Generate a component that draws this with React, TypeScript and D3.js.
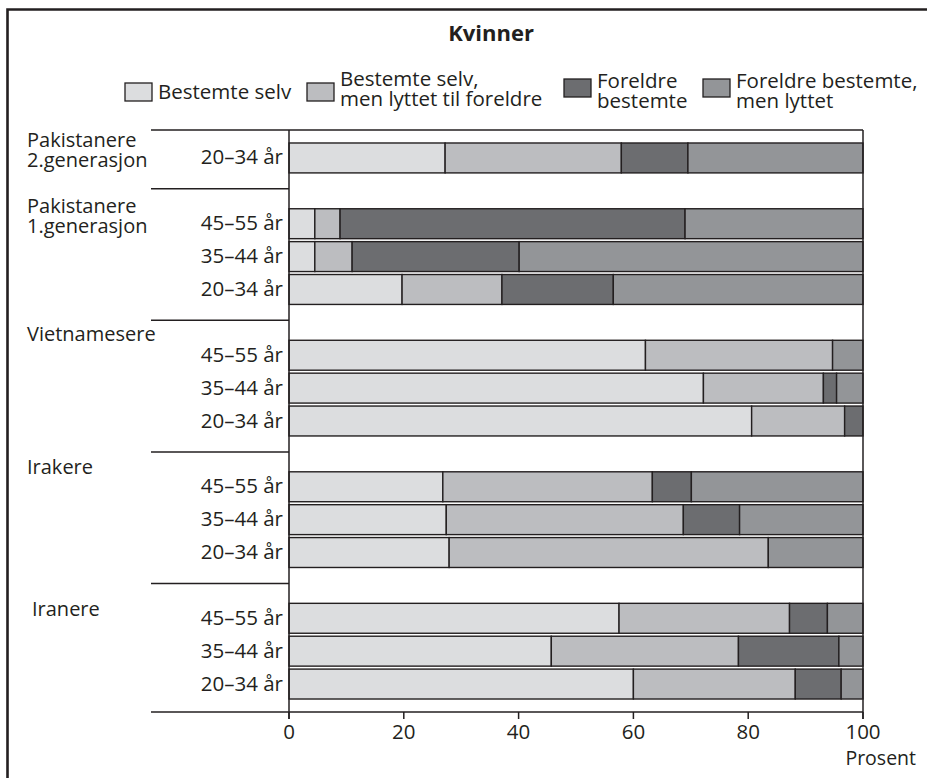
import React from 'react';
import * as d3 from 'd3';

// series (stack order, left to right)
const categories = [
  'Bestemte selv',
  'Bestemte selv, men lyttet til foreldre',
  'Foreldre bestemte',
  'Foreldre bestemte, men lyttet',
];
const legendLines = [
  ['Bestemte selv'],
  ['Bestemte selv,', 'men lyttet til foreldre'],
  ['Foreldre', 'bestemte'],
  ['Foreldre bestemte,', 'men lyttet'],
];

const groupNames = [
  ['Pakistanere', '2.generasjon'],
  ['Pakistanere', '1.generasjon'],
  ['Vietnamesere'],
  ['Irakere'],
  ['Iranere'],
];
const groupAges = [
  ['20–34 år'],
  ['45–55 år', '35–44 år', '20–34 år'],
  ['45–55 år', '35–44 år', '20–34 år'],
  ['45–55 år', '35–44 år', '20–34 år'],
  ['45–55 år', '35–44 år', '20–34 år'],
];

// percent, one value per bar, top to bottom
const bestemteSelv = [27.2, 4.5, 4.5, 19.7, 62.1, 72.2, 80.6, 26.8, 27.4, 27.9, 57.5, 45.7, 60.0];
const lyttetTilForeldre = [30.7, 4.4, 6.5, 17.4, 32.6, 20.9, 16.2, 36.5, 41.3, 55.6, 29.7, 32.6, 28.2];
const foreldreBestemte = [11.6, 60.1, 29.1, 19.4, 0, 2.3, 3.2, 6.8, 9.8, 0, 6.6, 17.5, 8.0];
const foreldreLyttet = [30.5, 31.0, 59.9, 43.5, 5.3, 4.6, 0, 29.9, 21.5, 16.5, 6.2, 4.2, 3.8];

const xTicks = [0, 20, 40, 60, 80, 100];

const colors = ['#dcdddf', '#bcbdc0', '#6c6d70', '#939598'];
const FONT = "'Open Sans', 'Noto Sans', sans-serif";
const INK = '#231f20';

const W = 927;
const H = 778;

export default function App() {
  // slots: bars plus one blank slot before every group except the first
  const slots: { key: string; gi: number; age?: string }[] = [];
  groupAges.forEach((ages, gi) => {
    if (gi > 0) slots.push({ key: `gap${gi}`, gi });
    ages.forEach((age, ai) => slots.push({ key: `${gi}-${ai}`, gi, age }));
  });
  const bars = slots.filter(s => s.age !== undefined);

  const seriesKeys = ['a', 'b', 'c', 'd'];
  const table = bars.map((b, i) => ({
    key: b.key,
    a: bestemteSelv[i],
    b: lyttetTilForeldre[i],
    c: foreldreBestemte[i],
    d: foreldreLyttet[i],
  }));
  const stacked = d3.stack<any>().keys(seriesKeys)(table);

  const x = d3.scaleLinear().domain([0, 100]).range([289, 863]);
  const y = d3
    .scaleBand<string>()
    .domain(slots.map(s => s.key))
    .range([130, 712])
    .paddingInner(0.09)
    .paddingOuter(0.395);
  const bw = y.bandwidth();
  const top = 130;
  const bottom = 712;
  const sepLeft = 151;

  const sepYs = [top, ...slots.filter(s => s.age === undefined).map(s => (y(s.key) as number) + bw / 2 - 2), bottom];

  // label nudges per group
  const groupLabelOffset = [
    { dx: 0, dy: -11 },
    { dx: 0, dy: -11 },
    { dx: 0, dy: -14 },
    { dx: 0, dy: -13 },
    { dx: 5, dy: -2 },
  ];

  const legendPos = [
    { x: 125, sy: 83, ty: [99] },
    { x: 307, sy: 83, ty: [86, 106] },
    { x: 564, sy: 79, ty: [88, 108] },
    { x: 703, sy: 79, ty: [88, 108] },
  ];

  return (
    <svg width={W} height={H} style={{ position: 'absolute', left: 0, top: 0, background: '#fff' }} fontFamily={FONT}>
      {/* frame: only top and left edges fall inside the picture */}
      <path d={`M7.5,${H} V9.5 H${W}`} fill="none" stroke={INK} strokeWidth={2.6} />

      <text x={491} y={41} textAnchor="middle" fontWeight="bold" fontSize={22} fill={INK}>
        Kvinner
      </text>

      {/* legend */}
      {categories.map((c, i) => (
        <g key={c}>
          <rect x={legendPos[i].x} y={legendPos[i].sy} width={27} height={18} fill={colors[i]} stroke={INK} strokeWidth={1.3} />
          {legendLines[i].map((line, li) => (
            <text key={li} x={legendPos[i].x + 33} y={legendPos[i].ty[li]} fontSize={20.5} fill={INK}>
              {line}
            </text>
          ))}
        </g>
      ))}

      {/* bars */}
      {stacked.map((s, si) => (
        <g key={s.key} fill={colors[si]}>
          {s.map((d, i) =>
            d[1] - d[0] > 0 ? (
              <rect
                key={i}
                x={x(d[0])}
                y={y(d.data.key)}
                width={x(d[1]) - x(d[0])}
                height={bw}
                stroke={INK}
                strokeWidth={1.4}
              />
            ) : null
          )}
        </g>
      ))}

      {/* group separators */}
      {sepYs.map((sy, i) => (
        <line key={i} x1={sepLeft} x2={x(0)} y1={sy} y2={sy} stroke={INK} strokeWidth={1.5} />
      ))}
      <line x1={x(0)} x2={x(100)} y1={top} y2={top} stroke={INK} strokeWidth={1.5} />
      <line x1={x(0)} x2={x(100)} y1={bottom} y2={bottom} stroke={INK} strokeWidth={1.5} />
      <line x1={x(0)} x2={x(0)} y1={top} y2={bottom + 7} stroke={INK} strokeWidth={1.5} />
      <line x1={x(100)} x2={x(100)} y1={top} y2={bottom + 7} stroke={INK} strokeWidth={1.5} />

      {/* x axis */}
      {xTicks.map(t => (
        <g key={t}>
          <line x1={x(t)} x2={x(t)} y1={bottom} y2={bottom + 7} stroke={INK} strokeWidth={1.5} />
          <text x={x(t)} y={739} textAnchor="middle" fontSize={20.5} fill={INK}>
            {t}
          </text>
        </g>
      ))}
      <text x={916} y={765} textAnchor="end" fontSize={19.5} fill={INK}>
        Prosent
      </text>

      {/* row labels */}
      {bars.map(b => (
        <text key={b.key} x={283} y={(y(b.key) as number) + bw / 2 + 6.5} textAnchor="end" fontSize={20.5} fill={INK}>
          {b.age}
        </text>
      ))}

      {/* group labels */}
      {groupNames.map((lines, gi) => {
        const first = bars.find(b => b.gi === gi)!;
        const by = (y(first.key) as number) + bw / 2 + groupLabelOffset[gi].dy;
        return (
          <text key={gi} x={27 + groupLabelOffset[gi].dx} y={by} fontSize={20} fill={INK}>
            {lines.map((l, li) => (
              <tspan key={li} x={27 + groupLabelOffset[gi].dx} y={by + li * 20.5}>
                {l}
              </tspan>
            ))}
          </text>
        );
      })}
    </svg>
  );
}
